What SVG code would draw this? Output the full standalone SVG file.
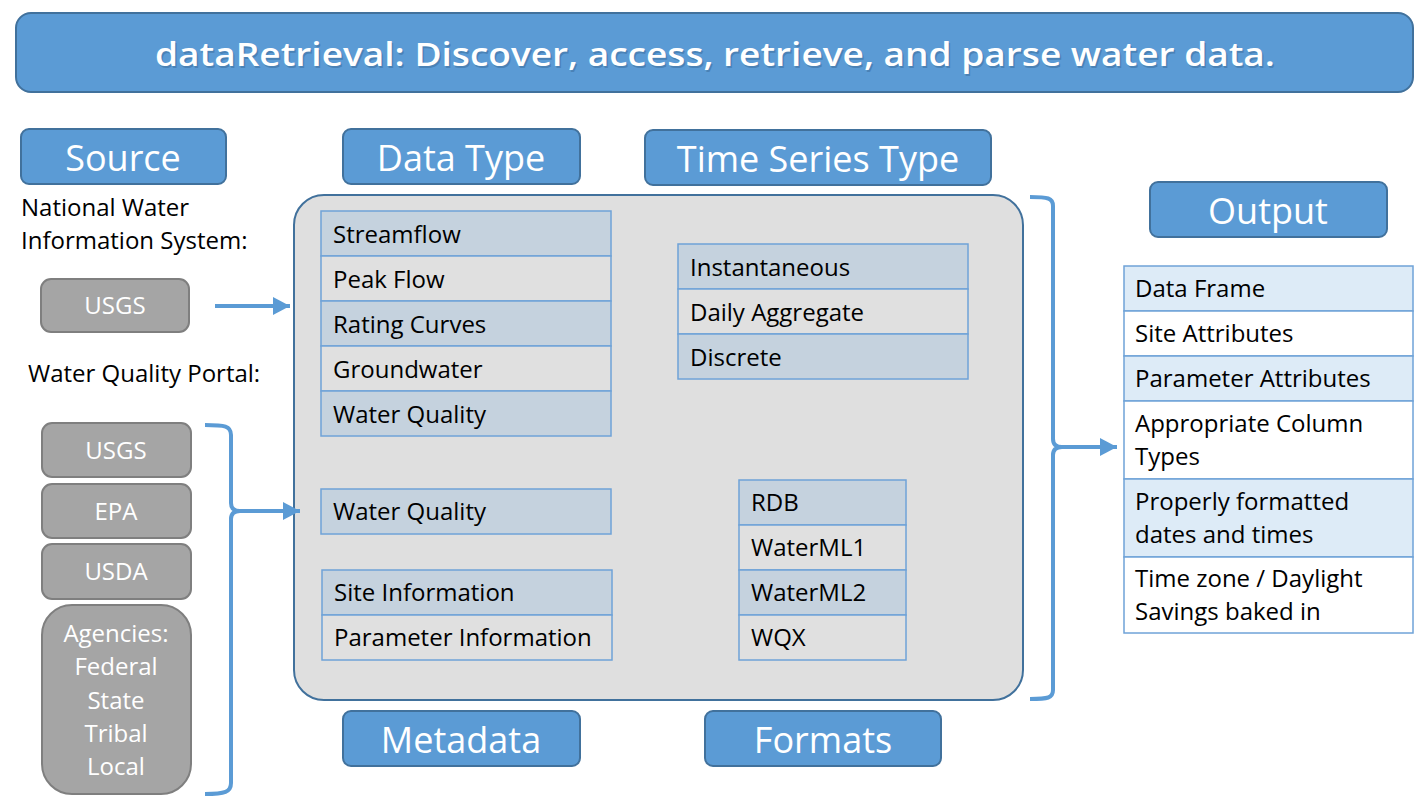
<svg xmlns="http://www.w3.org/2000/svg" width="1422" height="803" viewBox="0 0 1422 803">
<defs>
<style>
.hdr{fill:#5B9BD5;stroke:#41719C;stroke-width:2}
.htxt{font-family:"Open Sans","Liberation Sans",sans-serif;font-size:36px;fill:#fff;text-anchor:middle}
.gray{fill:#A5A5A5;stroke:#7F7F7F;stroke-width:2}
.gtxt{font-family:"Open Sans","Liberation Sans",sans-serif;font-size:24px;fill:#fff;text-anchor:middle}
.lbl{font-family:"Open Sans","Liberation Sans",sans-serif;font-size:24px;fill:#000}
.rowA{fill:#C5D2DE;stroke:#6FA3D8;stroke-width:1.5}
.rowB{fill:#E0E0E0;stroke:#6FA3D8;stroke-width:1.5}
.outA{fill:#DDEBF7;stroke:#6FA3D8;stroke-width:1.5}
.outB{fill:#FFFFFF;stroke:#6FA3D8;stroke-width:1.5}
.conn{fill:none;stroke:#5B9BD5;stroke-width:4}
</style>
<marker id="ah" markerUnits="userSpaceOnUse" markerWidth="20" markerHeight="20" refX="17" refY="10" orient="auto">
<path d="M0,1 L17,10 L0,19 Z" fill="#5B9BD5"/>
</marker>
</defs>
<rect width="1422" height="803" fill="#fff"/>

<g id="title">
<rect class="hdr" x="16" y="13" width="1397" height="79" rx="15"/>
<text x="715" y="66" font-family="'Open Sans','Liberation Sans',sans-serif" font-size="33" font-weight="600" fill="#3a6a98" text-anchor="middle" textLength="1120" lengthAdjust="spacingAndGlyphs" opacity="0.5" transform="translate(1.5,1.5)">dataRetrieval: Discover, access, retrieve, and parse water data.</text>
<text x="715" y="66" font-family="'Open Sans','Liberation Sans',sans-serif" font-size="33" font-weight="600" fill="#fff" text-anchor="middle" textLength="1120" lengthAdjust="spacingAndGlyphs">dataRetrieval: Discover, access, retrieve, and parse water data.</text>
</g>

<g id="source-header"><rect class="hdr" x="21" y="129" width="205" height="55" rx="8"/><text class="htxt" x="123" y="171">Source</text></g>
<g id="datatype-header"><rect class="hdr" x="343" y="129" width="237" height="55" rx="8"/><text class="htxt" x="461" y="171">Data Type</text></g>
<g id="tstype-header"><rect class="hdr" x="645" y="130" width="346" height="55" rx="8"/><text class="htxt" x="818" y="172">Time Series Type</text></g>
<g id="output-header"><rect class="hdr" x="1150" y="182" width="237" height="55" rx="8"/><text class="htxt" x="1268" y="224">Output</text></g>
<g id="metadata-header"><rect class="hdr" x="343" y="711" width="237" height="55" rx="8"/><text class="htxt" x="461" y="753">Metadata</text></g>
<g id="formats-header"><rect class="hdr" x="705" y="711" width="236" height="55" rx="8"/><text class="htxt" x="823" y="753">Formats</text></g>

<g id="nwis-label">
<text class="lbl" x="21" y="216">National Water</text>
<text class="lbl" x="21" y="249">Information System:</text>
</g>
<g id="wqp-label"><text class="lbl" x="28" y="382">Water Quality Portal:</text></g>

<g id="usgs-nwis"><rect class="gray" x="41" y="279" width="148" height="53" rx="10"/><text class="gtxt" x="115" y="314">USGS</text></g>
<g id="usgs-wqp"><rect class="gray" x="42" y="423" width="149" height="54" rx="10"/><text class="gtxt" x="116" y="459">USGS</text></g>
<g id="epa"><rect class="gray" x="42" y="484" width="149" height="54" rx="10"/><text class="gtxt" x="116" y="520">EPA</text></g>
<g id="usda"><rect class="gray" x="42" y="544" width="149" height="55" rx="10"/><text class="gtxt" x="116" y="580">USDA</text></g>
<g id="agencies">
<rect class="gray" x="42" y="605" width="149" height="189" rx="30"/>
<text class="gtxt" x="116" y="642">Agencies:</text>
<text class="gtxt" x="116" y="675">Federal</text>
<text class="gtxt" x="116" y="709">State</text>
<text class="gtxt" x="116" y="742">Tribal</text>
<text class="gtxt" x="116" y="775">Local</text>
</g>

<g id="main-container"><rect x="294" y="195" width="729" height="505" rx="30" fill="#DFDFDF" stroke="#41719C" stroke-width="2"/></g>

<g id="datatype-table">
<rect class="rowA" x="321" y="211" width="290" height="45"/>
<rect class="rowB" x="321" y="256" width="290" height="45"/>
<rect class="rowA" x="321" y="301" width="290" height="45"/>
<rect class="rowB" x="321" y="346" width="290" height="45"/>
<rect class="rowA" x="321" y="391" width="290" height="45"/>
<text class="lbl" x="333" y="243">Streamflow</text>
<text class="lbl" x="333" y="288">Peak Flow</text>
<text class="lbl" x="333" y="333">Rating Curves</text>
<text class="lbl" x="333" y="378">Groundwater</text>
<text class="lbl" x="333" y="423">Water Quality</text>
</g>

<g id="tstype-table">
<rect class="rowA" x="678" y="244" width="290" height="45"/>
<rect class="rowB" x="678" y="289" width="290" height="45"/>
<rect class="rowA" x="678" y="334" width="290" height="45"/>
<text class="lbl" x="690" y="276">Instantaneous</text>
<text class="lbl" x="690" y="321">Daily Aggregate</text>
<text class="lbl" x="690" y="366">Discrete</text>
</g>

<g id="wqp-datatype">
<rect class="rowA" x="321" y="489" width="290" height="45"/>
<text class="lbl" x="333" y="520">Water Quality</text>
</g>

<g id="metadata-table">
<rect class="rowA" x="322" y="570" width="290" height="45"/>
<rect class="rowB" x="322" y="615" width="290" height="45"/>
<text class="lbl" x="334" y="601">Site Information</text>
<text class="lbl" x="334" y="646">Parameter Information</text>
</g>

<g id="formats-table">
<rect class="rowA" x="739" y="480" width="167" height="45"/>
<rect class="rowB" x="739" y="525" width="167" height="45"/>
<rect class="rowA" x="739" y="570" width="167" height="45"/>
<rect class="rowB" x="739" y="615" width="167" height="45"/>
<text class="lbl" x="751" y="511">RDB</text>
<text class="lbl" x="751" y="556">WaterML1</text>
<text class="lbl" x="751" y="601">WaterML2</text>
<text class="lbl" x="751" y="646">WQX</text>
</g>

<g id="output-table">
<rect class="outA" x="1124" y="266" width="289" height="45"/>
<rect class="outB" x="1124" y="311" width="289" height="45"/>
<rect class="outA" x="1124" y="356" width="289" height="45"/>
<rect class="outB" x="1124" y="401" width="289" height="78"/>
<rect class="outA" x="1124" y="479" width="289" height="78"/>
<rect class="outB" x="1124" y="557" width="289" height="76"/>
<text class="lbl" x="1135" y="297">Data Frame</text>
<text class="lbl" x="1135" y="342">Site Attributes</text>
<text class="lbl" x="1135" y="387">Parameter Attributes</text>
<text class="lbl" x="1135" y="432">Appropriate Column</text>
<text class="lbl" x="1135" y="465">Types</text>
<text class="lbl" x="1135" y="510">Properly formatted</text>
<text class="lbl" x="1135" y="543">dates and times</text>
<text class="lbl" x="1135" y="587">Time zone / Daylight</text>
<text class="lbl" x="1135" y="620">Savings baked in</text>
</g>

<g id="connectors">
<path class="conn" d="M215,306 L290,306" marker-end="url(#ah)"/>
<path class="conn" d="M205,425 C225,425 231,426 231,435 L231,503 C231,508 234,511 240,511 C234,511 231,514 231,519 L231,783 C231,792 225,794 205,794"/>
<path class="conn" d="M240,511 L300,511" marker-end="url(#ah)"/>
<path class="conn" d="M1030,197 C1048,197 1053,198 1053,206 L1053,439 C1053,444 1056,447 1062,447 C1056,447 1053,450 1053,455 L1053,690 C1053,698 1048,699 1030,699"/>
<path class="conn" d="M1062,447 L1117,447" marker-end="url(#ah)"/>
</g>
</svg>
